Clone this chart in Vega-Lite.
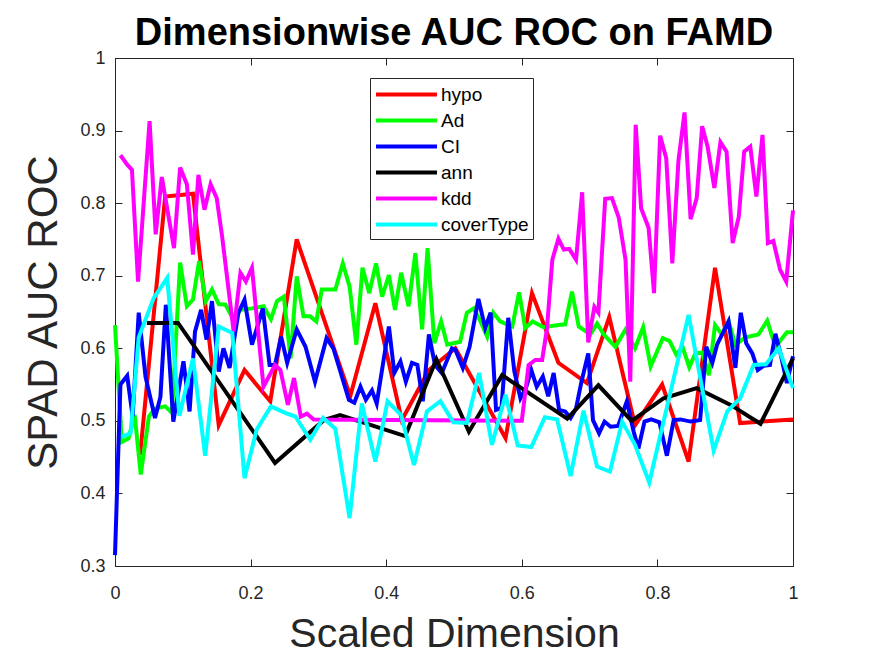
{
  "$schema": "https://vega.github.io/schema/vega-lite/v6.json",
  "width": 678,
  "height": 508,
  "autosize": "none",
  "padding": {"left": 115, "top": 58, "right": 82, "bottom": 90},
  "background": "white",
  "title": {"text": "Dimensionwise AUC ROC on FAMD", "font": "Liberation Sans", "fontSize": 38, "fontWeight": "bold", "color": "#000000", "anchor": "middle", "frame": "group", "baseline": "bottom", "offset": 3, "dy": 45},
  "config": {
    "view": {"stroke": "#262626", "strokeWidth": 1},
    "axis": {"grid": false, "labelFlush": false, "domainColor": "#262626", "tickColor": "#262626", "labelColor": "#262626", "labelFont": "Liberation Sans", "labelFontSize": 18, "titleFont": "Liberation Sans", "titleFontWeight": "normal", "titleColor": "#262626", "titleFontSize": 41, "tickSize": -7}
  },
  "resolve": {"axis": {"x": "independent", "y": "independent"}},
  "data": {"values": [
    {"d":"hypo","x":0.037,"y":0.453},{"d":"hypo","x":0.074,"y":0.809},{"d":"hypo","x":0.115,"y":0.813},{"d":"hypo","x":0.153,"y":0.494},{"d":"hypo","x":0.191,"y":0.570},{"d":"hypo","x":0.229,"y":0.527},{"d":"hypo","x":0.268,"y":0.750},{"d":"hypo","x":0.347,"y":0.534},{"d":"hypo","x":0.384,"y":0.662},{"d":"hypo","x":0.423,"y":0.501},{"d":"hypo","x":0.463,"y":0.570},{"d":"hypo","x":0.502,"y":0.600},{"d":"hypo","x":0.576,"y":0.476},{"d":"hypo","x":0.615,"y":0.676},{"d":"hypo","x":0.654,"y":0.580},{"d":"hypo","x":0.696,"y":0.552},{"d":"hypo","x":0.729,"y":0.643},{"d":"hypo","x":0.767,"y":0.494},{"d":"hypo","x":0.807,"y":0.550},{"d":"hypo","x":0.846,"y":0.444},{"d":"hypo","x":0.885,"y":0.711},{"d":"hypo","x":0.922,"y":0.497},{"d":"hypo","x":1.0,"y":0.502},
    {"d":"Ad","x":0,"y":0.632},{"d":"Ad","x":0.010,"y":0.471},{"d":"Ad","x":0.020,"y":0.476},{"d":"Ad","x":0.029,"y":0.508},{"d":"Ad","x":0.038,"y":0.426},{"d":"Ad","x":0.050,"y":0.506},{"d":"Ad","x":0.059,"y":0.517},{"d":"Ad","x":0.074,"y":0.520},{"d":"Ad","x":0.084,"y":0.511},{"d":"Ad","x":0.096,"y":0.718},{"d":"Ad","x":0.106,"y":0.658},{"d":"Ad","x":0.115,"y":0.667},{"d":"Ad","x":0.124,"y":0.720},{"d":"Ad","x":0.134,"y":0.665},{"d":"Ad","x":0.143,"y":0.681},{"d":"Ad","x":0.153,"y":0.661},{"d":"Ad","x":0.163,"y":0.660},{"d":"Ad","x":0.175,"y":0.639},{"d":"Ad","x":0.185,"y":0.653},{"d":"Ad","x":0.202,"y":0.655},{"d":"Ad","x":0.219,"y":0.658},{"d":"Ad","x":0.230,"y":0.640},{"d":"Ad","x":0.239,"y":0.665},{"d":"Ad","x":0.249,"y":0.671},{"d":"Ad","x":0.259,"y":0.586},{"d":"Ad","x":0.268,"y":0.699},{"d":"Ad","x":0.278,"y":0.644},{"d":"Ad","x":0.288,"y":0.644},{"d":"Ad","x":0.297,"y":0.637},{"d":"Ad","x":0.305,"y":0.681},{"d":"Ad","x":0.325,"y":0.681},{"d":"Ad","x":0.336,"y":0.717},{"d":"Ad","x":0.346,"y":0.685},{"d":"Ad","x":0.356,"y":0.605},{"d":"Ad","x":0.365,"y":0.711},{"d":"Ad","x":0.375,"y":0.676},{"d":"Ad","x":0.385,"y":0.717},{"d":"Ad","x":0.394,"y":0.671},{"d":"Ad","x":0.404,"y":0.701},{"d":"Ad","x":0.413,"y":0.653},{"d":"Ad","x":0.422,"y":0.704},{"d":"Ad","x":0.433,"y":0.658},{"d":"Ad","x":0.443,"y":0.731},{"d":"Ad","x":0.453,"y":0.626},{"d":"Ad","x":0.461,"y":0.738},{"d":"Ad","x":0.471,"y":0.607},{"d":"Ad","x":0.481,"y":0.637},{"d":"Ad","x":0.490,"y":0.605},{"d":"Ad","x":0.509,"y":0.609},{"d":"Ad","x":0.519,"y":0.649},{"d":"Ad","x":0.529,"y":0.655},{"d":"Ad","x":0.539,"y":0.637},{"d":"Ad","x":0.549,"y":0.616},{"d":"Ad","x":0.558,"y":0.649},{"d":"Ad","x":0.568,"y":0.637},{"d":"Ad","x":0.586,"y":0.630},{"d":"Ad","x":0.596,"y":0.677},{"d":"Ad","x":0.605,"y":0.628},{"d":"Ad","x":0.616,"y":0.637},{"d":"Ad","x":0.632,"y":0.629},{"d":"Ad","x":0.654,"y":0.632},{"d":"Ad","x":0.664,"y":0.633},{"d":"Ad","x":0.674,"y":0.678},{"d":"Ad","x":0.684,"y":0.630},{"d":"Ad","x":0.701,"y":0.619},{"d":"Ad","x":0.711,"y":0.634},{"d":"Ad","x":0.721,"y":0.619},{"d":"Ad","x":0.738,"y":0.602},{"d":"Ad","x":0.753,"y":0.626},{"d":"Ad","x":0.767,"y":0.600},{"d":"Ad","x":0.779,"y":0.629},{"d":"Ad","x":0.790,"y":0.575},{"d":"Ad","x":0.808,"y":0.614},{"d":"Ad","x":0.818,"y":0.610},{"d":"Ad","x":0.828,"y":0.591},{"d":"Ad","x":0.837,"y":0.602},{"d":"Ad","x":0.847,"y":0.574},{"d":"Ad","x":0.856,"y":0.593},{"d":"Ad","x":0.866,"y":0.594},{"d":"Ad","x":0.876,"y":0.563},{"d":"Ad","x":0.885,"y":0.632},{"d":"Ad","x":0.895,"y":0.619},{"d":"Ad","x":0.905,"y":0.637},{"d":"Ad","x":0.915,"y":0.605},{"d":"Ad","x":0.930,"y":0.615},{"d":"Ad","x":0.949,"y":0.619},{"d":"Ad","x":0.962,"y":0.638},{"d":"Ad","x":0.974,"y":0.602},{"d":"Ad","x":0.991,"y":0.622},{"d":"Ad","x":1.0,"y":0.622},
    {"d":"CI","x":0,"y":0.315},{"d":"CI","x":0.008,"y":0.550},{"d":"CI","x":0.018,"y":0.562},{"d":"CI","x":0.026,"y":0.506},{"d":"CI","x":0.035,"y":0.649},{"d":"CI","x":0.045,"y":0.561},{"d":"CI","x":0.059,"y":0.504},{"d":"CI","x":0.067,"y":0.533},{"d":"CI","x":0.075,"y":0.660},{"d":"CI","x":0.086,"y":0.499},{"d":"CI","x":0.101,"y":0.582},{"d":"CI","x":0.110,"y":0.513},{"d":"CI","x":0.118,"y":0.623},{"d":"CI","x":0.127,"y":0.653},{"d":"CI","x":0.135,"y":0.612},{"d":"CI","x":0.143,"y":0.665},{"d":"CI","x":0.153,"y":0.568},{"d":"CI","x":0.160,"y":0.600},{"d":"CI","x":0.169,"y":0.573},{"d":"CI","x":0.182,"y":0.649},{"d":"CI","x":0.191,"y":0.667},{"d":"CI","x":0.202,"y":0.605},{"d":"CI","x":0.218,"y":0.655},{"d":"CI","x":0.228,"y":0.577},{"d":"CI","x":0.236,"y":0.577},{"d":"CI","x":0.245,"y":0.616},{"d":"CI","x":0.254,"y":0.580},{"d":"CI","x":0.268,"y":0.626},{"d":"CI","x":0.281,"y":0.602},{"d":"CI","x":0.295,"y":0.554},{"d":"CI","x":0.312,"y":0.614},{"d":"CI","x":0.322,"y":0.600},{"d":"CI","x":0.345,"y":0.529},{"d":"CI","x":0.353,"y":0.525},{"d":"CI","x":0.362,"y":0.547},{"d":"CI","x":0.370,"y":0.529},{"d":"CI","x":0.379,"y":0.542},{"d":"CI","x":0.386,"y":0.524},{"d":"CI","x":0.404,"y":0.630},{"d":"CI","x":0.412,"y":0.566},{"d":"CI","x":0.421,"y":0.582},{"d":"CI","x":0.429,"y":0.554},{"d":"CI","x":0.438,"y":0.580},{"d":"CI","x":0.446,"y":0.577},{"d":"CI","x":0.454,"y":0.527},{"d":"CI","x":0.463,"y":0.619},{"d":"CI","x":0.472,"y":0.577},{"d":"CI","x":0.482,"y":0.566},{"d":"CI","x":0.497,"y":0.600},{"d":"CI","x":0.502,"y":0.598},{"d":"CI","x":0.513,"y":0.573},{"d":"CI","x":0.523,"y":0.602},{"d":"CI","x":0.536,"y":0.668},{"d":"CI","x":0.546,"y":0.628},{"d":"CI","x":0.554,"y":0.649},{"d":"CI","x":0.562,"y":0.515},{"d":"CI","x":0.570,"y":0.518},{"d":"CI","x":0.580,"y":0.642},{"d":"CI","x":0.589,"y":0.568},{"d":"CI","x":0.598,"y":0.531},{"d":"CI","x":0.606,"y":0.545},{"d":"CI","x":0.614,"y":0.570},{"d":"CI","x":0.622,"y":0.547},{"d":"CI","x":0.631,"y":0.561},{"d":"CI","x":0.639,"y":0.534},{"d":"CI","x":0.647,"y":0.566},{"d":"CI","x":0.655,"y":0.515},{"d":"CI","x":0.664,"y":0.513},{"d":"CI","x":0.672,"y":0.504},{"d":"CI","x":0.680,"y":0.517},{"d":"CI","x":0.688,"y":0.554},{"d":"CI","x":0.698,"y":0.593},{"d":"CI","x":0.705,"y":0.501},{"d":"CI","x":0.714,"y":0.483},{"d":"CI","x":0.722,"y":0.499},{"d":"CI","x":0.731,"y":0.492},{"d":"CI","x":0.742,"y":0.493},{"d":"CI","x":0.755,"y":0.527},{"d":"CI","x":0.765,"y":0.485},{"d":"CI","x":0.772,"y":0.462},{"d":"CI","x":0.781,"y":0.499},{"d":"CI","x":0.791,"y":0.502},{"d":"CI","x":0.803,"y":0.498},{"d":"CI","x":0.814,"y":0.452},{"d":"CI","x":0.824,"y":0.501},{"d":"CI","x":0.834,"y":0.502},{"d":"CI","x":0.849,"y":0.499},{"d":"CI","x":0.863,"y":0.501},{"d":"CI","x":0.872,"y":0.602},{"d":"CI","x":0.881,"y":0.580},{"d":"CI","x":0.888,"y":0.605},{"d":"CI","x":0.905,"y":0.637},{"d":"CI","x":0.915,"y":0.573},{"d":"CI","x":0.923,"y":0.649},{"d":"CI","x":0.931,"y":0.607},{"d":"CI","x":0.940,"y":0.593},{"d":"CI","x":0.948,"y":0.570},{"d":"CI","x":0.957,"y":0.576},{"d":"CI","x":0.966,"y":0.577},{"d":"CI","x":0.974,"y":0.620},{"d":"CI","x":0.982,"y":0.591},{"d":"CI","x":0.991,"y":0.552},{"d":"CI","x":1.0,"y":0.589},
    {"d":"ann","x":0.047,"y":0.635},{"d":"ann","x":0.093,"y":0.635},{"d":"ann","x":0.236,"y":0.442},{"d":"ann","x":0.308,"y":0.501},{"d":"ann","x":0.332,"y":0.508},{"d":"ann","x":0.428,"y":0.479},{"d":"ann","x":0.474,"y":0.585},{"d":"ann","x":0.522,"y":0.485},{"d":"ann","x":0.571,"y":0.563},{"d":"ann","x":0.667,"y":0.503},{"d":"ann","x":0.713,"y":0.549},{"d":"ann","x":0.762,"y":0.500},{"d":"ann","x":0.809,"y":0.531},{"d":"ann","x":0.858,"y":0.545},{"d":"ann","x":0.908,"y":0.522},{"d":"ann","x":0.952,"y":0.496},{"d":"ann","x":1.0,"y":0.586},
    {"d":"kdd","x":0.008,"y":0.866},{"d":"kdd","x":0.018,"y":0.853},{"d":"kdd","x":0.025,"y":0.846},{"d":"kdd","x":0.034,"y":0.692},{"d":"kdd","x":0.051,"y":0.913},{"d":"kdd","x":0.060,"y":0.757},{"d":"kdd","x":0.069,"y":0.836},{"d":"kdd","x":0.087,"y":0.738},{"d":"kdd","x":0.096,"y":0.849},{"d":"kdd","x":0.106,"y":0.826},{"d":"kdd","x":0.115,"y":0.729},{"d":"kdd","x":0.123,"y":0.839},{"d":"kdd","x":0.132,"y":0.791},{"d":"kdd","x":0.141,"y":0.826},{"d":"kdd","x":0.150,"y":0.807},{"d":"kdd","x":0.158,"y":0.754},{"d":"kdd","x":0.175,"y":0.623},{"d":"kdd","x":0.185,"y":0.704},{"d":"kdd","x":0.193,"y":0.692},{"d":"kdd","x":0.202,"y":0.711},{"d":"kdd","x":0.219,"y":0.547},{"d":"kdd","x":0.236,"y":0.577},{"d":"kdd","x":0.244,"y":0.570},{"d":"kdd","x":0.255,"y":0.522},{"d":"kdd","x":0.264,"y":0.559},{"d":"kdd","x":0.274,"y":0.506},{"d":"kdd","x":0.283,"y":0.510},{"d":"kdd","x":0.293,"y":0.502},{"d":"kdd","x":0.600,"y":0.500},{"d":"kdd","x":0.610,"y":0.577},{"d":"kdd","x":0.620,"y":0.584},{"d":"kdd","x":0.630,"y":0.584},{"d":"kdd","x":0.637,"y":0.626},{"d":"kdd","x":0.645,"y":0.722},{"d":"kdd","x":0.654,"y":0.751},{"d":"kdd","x":0.662,"y":0.736},{"d":"kdd","x":0.670,"y":0.737},{"d":"kdd","x":0.680,"y":0.722},{"d":"kdd","x":0.689,"y":0.815},{"d":"kdd","x":0.698,"y":0.608},{"d":"kdd","x":0.707,"y":0.657},{"d":"kdd","x":0.713,"y":0.649},{"d":"kdd","x":0.723,"y":0.806},{"d":"kdd","x":0.733,"y":0.807},{"d":"kdd","x":0.743,"y":0.780},{"d":"kdd","x":0.753,"y":0.722},{"d":"kdd","x":0.760,"y":0.554},{"d":"kdd","x":0.768,"y":0.908},{"d":"kdd","x":0.776,"y":0.793},{"d":"kdd","x":0.787,"y":0.766},{"d":"kdd","x":0.795,"y":0.676},{"d":"kdd","x":0.804,"y":0.893},{"d":"kdd","x":0.813,"y":0.862},{"d":"kdd","x":0.822,"y":0.717},{"d":"kdd","x":0.831,"y":0.858},{"d":"kdd","x":0.840,"y":0.925},{"d":"kdd","x":0.849,"y":0.778},{"d":"kdd","x":0.858,"y":0.807},{"d":"kdd","x":0.866,"y":0.906},{"d":"kdd","x":0.874,"y":0.878},{"d":"kdd","x":0.884,"y":0.821},{"d":"kdd","x":0.893,"y":0.884},{"d":"kdd","x":0.902,"y":0.871},{"d":"kdd","x":0.911,"y":0.745},{"d":"kdd","x":0.920,"y":0.781},{"d":"kdd","x":0.928,"y":0.871},{"d":"kdd","x":0.937,"y":0.878},{"d":"kdd","x":0.946,"y":0.809},{"d":"kdd","x":0.955,"y":0.894},{"d":"kdd","x":0.963,"y":0.745},{"d":"kdd","x":0.971,"y":0.748},{"d":"kdd","x":0.981,"y":0.708},{"d":"kdd","x":0.990,"y":0.692},{"d":"kdd","x":1.0,"y":0.790},
    {"d":"coverType","x":0.010,"y":0.478},{"d":"coverType","x":0.023,"y":0.483},{"d":"coverType","x":0.035,"y":0.615},{"d":"coverType","x":0.057,"y":0.669},{"d":"coverType","x":0.077,"y":0.697},{"d":"coverType","x":0.095,"y":0.507},{"d":"coverType","x":0.115,"y":0.586},{"d":"coverType","x":0.133,"y":0.452},{"d":"coverType","x":0.153,"y":0.630},{"d":"coverType","x":0.173,"y":0.621},{"d":"coverType","x":0.191,"y":0.421},{"d":"coverType","x":0.209,"y":0.488},{"d":"coverType","x":0.230,"y":0.520},{"d":"coverType","x":0.251,"y":0.511},{"d":"coverType","x":0.266,"y":0.506},{"d":"coverType","x":0.288,"y":0.474},{"d":"coverType","x":0.307,"y":0.504},{"d":"coverType","x":0.325,"y":0.489},{"d":"coverType","x":0.346,"y":0.366},{"d":"coverType","x":0.364,"y":0.524},{"d":"coverType","x":0.384,"y":0.444},{"d":"coverType","x":0.402,"y":0.527},{"d":"coverType","x":0.422,"y":0.508},{"d":"coverType","x":0.441,"y":0.439},{"d":"coverType","x":0.460,"y":0.513},{"d":"coverType","x":0.480,"y":0.527},{"d":"coverType","x":0.499,"y":0.498},{"d":"coverType","x":0.519,"y":0.497},{"d":"coverType","x":0.537,"y":0.566},{"d":"coverType","x":0.556,"y":0.467},{"d":"coverType","x":0.576,"y":0.536},{"d":"coverType","x":0.594,"y":0.466},{"d":"coverType","x":0.614,"y":0.464},{"d":"coverType","x":0.634,"y":0.505},{"d":"coverType","x":0.652,"y":0.502},{"d":"coverType","x":0.672,"y":0.424},{"d":"coverType","x":0.691,"y":0.514},{"d":"coverType","x":0.711,"y":0.437},{"d":"coverType","x":0.730,"y":0.430},{"d":"coverType","x":0.748,"y":0.499},{"d":"coverType","x":0.767,"y":0.467},{"d":"coverType","x":0.788,"y":0.415},{"d":"coverType","x":0.846,"y":0.646},{"d":"coverType","x":0.883,"y":0.459},{"d":"coverType","x":0.903,"y":0.513},{"d":"coverType","x":0.922,"y":0.531},{"d":"coverType","x":0.942,"y":0.577},{"d":"coverType","x":0.960,"y":0.578},{"d":"coverType","x":0.979,"y":0.600},{"d":"coverType","x":1.0,"y":0.545}
  ]},
  "layer": [
    {
      "mark": {"type": "line", "strokeWidth": 4, "strokeJoin": "miter"},
      "encoding": {
        "x": {"field": "x", "type": "quantitative", "scale": {"domain": [0, 1], "nice": false, "zero": false},
          "axis": {"orient": "bottom", "title": "Scaled Dimension", "values": [0, 0.2, 0.4, 0.6, 0.8, 1], "format": "~g", "labelPadding": 25, "titlePadding": 12}},
        "y": {"field": "y", "type": "quantitative", "scale": {"domain": [0.3, 1], "nice": false, "zero": false},
          "axis": {"orient": "left", "title": "SPAD AUC ROC", "values": [0.3, 0.4, 0.5, 0.6, 0.7, 0.8, 0.9, 1], "format": "~g", "labelPadding": 17, "titlePadding": 14, "titleFontSize": 42}},
        "color": {"field": "d", "type": "nominal", "sort": null,
          "scale": {"domain": ["hypo", "Ad", "CI", "ann", "kdd", "coverType"], "range": ["#ff0000", "#00ff00", "#0000ff", "#000000", "#ff00ff", "#00ffff"]},
          "legend": {"title": null, "orient": "none", "legendX": 255, "legendY": 20, "symbolType": "M-3,0H3", "symbolSize": 413, "symbolStrokeWidth": 4, "symbolOffset": 20, "labelFont": "Liberation Sans", "labelFontSize": 19, "labelColor": "#000000", "labelOffset": 22, "rowPadding": 3, "padding": 4, "strokeColor": "#262626", "fillColor": "#ffffff"}}
      }
    },
    {
      "mark": {"type": "point", "opacity": 0},
      "encoding": {
        "x": {"field": "x", "type": "quantitative", "scale": {"domain": [0, 1], "nice": false, "zero": false},
          "axis": {"orient": "top", "title": null, "labels": false, "domain": false, "values": [0, 0.2, 0.4, 0.6, 0.8, 1]}},
        "y": {"field": "y", "type": "quantitative", "scale": {"domain": [0.3, 1], "nice": false, "zero": false},
          "axis": {"orient": "right", "title": null, "labels": false, "domain": false, "values": [0.3, 0.4, 0.5, 0.6, 0.7, 0.8, 0.9, 1]}}
      }
    }
  ]
}
